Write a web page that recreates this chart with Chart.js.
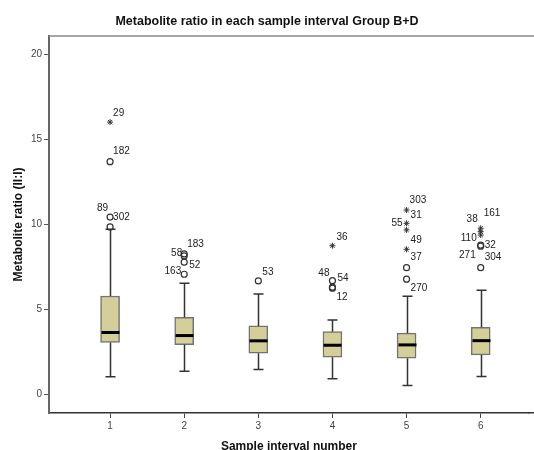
<!DOCTYPE html>
<html>
<head>
<meta charset="utf-8">
<script src="https://cdn.jsdelivr.net/npm/chart.js@4/dist/chart.umd.min.js"></script>
<style>
  html, body { margin: 0; padding: 0; background: #fff; }
  #wrap { width: 534px; height: 450px; }
</style>
</head>
<body>
<div id="wrap"><canvas id="myChart" width="534" height="450"></canvas></div>
<script>
'use strict';

// box summary per sample interval
const groups = [1, 2, 3, 4, 5, 6];
const q1 = [3.05, 2.93, 2.42, 2.19, 2.13, 2.32];
const median = [3.64, 3.46, 3.15, 2.89, 2.91, 3.16];
const q3 = [5.79, 4.54, 4.03, 3.69, 3.60, 3.95];
const whiskerLow = [1.03, 1.36, 1.46, 0.91, 0.52, 1.05];
const whiskerHigh = [9.72, 6.54, 5.91, 4.38, 5.78, 6.13];

// outliers (case number, group, value, extreme = star)
const outlierCase = ['29', '182', '302', '89', '183', '58', '52', '163', '53', '36', '54', '48', '12',
    '303', '31', '55', '49', '37', '270', '161', '38', '110', '32', '271', '304'];
const outlierGroup = [1, 1, 1, 1, 2, 2, 2, 2, 3, 4, 4, 4, 4, 5, 5, 5, 5, 5, 5, 6, 6, 6, 6, 6, 6];
const outlierValue = [16.03, 13.70, 10.44, 9.86, 8.27, 8.15, 7.78, 7.07, 6.68, 8.75, 6.69, 6.31, 6.25,
    10.85, 10.07, 9.68, 8.54, 7.46, 6.78, 9.78, 9.58, 9.38, 8.78, 8.72, 7.46];
const outlierExtreme = [true, false, false, false, false, false, false, false, false, true, false, false, false,
    true, true, true, true, false, false, true, true, true, false, false, false];

const yTicks = [0, 5, 10, 15, 20];

// where each case label sits next to its marker: [dx, dy, align]
const labelPlace = [
    [3, -9, 'left'], [3, -10, 'left'], [3, 0, 'left'], [-2, -19, 'right'],
    [3, -10, 'left'], [-2, -3, 'right'], [5, 3, 'left'], [-3, -3, 'right'],
    [4, -9, 'left'],
    [4, -8, 'left'], [5, -2, 'left'], [-3, -14, 'right'], [4, 9, 'left'],
    [3, -10, 'left'], [4, -8, 'left'], [-4, -7, 'right'], [4, -9, 'left'], [4, -10, 'left'], [4, 9, 'left'],
    [3, -15, 'left'], [-3, -12, 'right'], [-4, 3, 'right'], [4, 0, 'left'], [-5, 9, 'right'], [4, -10, 'left']
];

const FONT = "'Liberation Sans', Arial, sans-serif";

const mild = [];
const extreme = [];
outlierValue.forEach((v, i) => {
    const p = { x: outlierGroup[i], y: v };
    (outlierExtreme[i] ? extreme : mild).push(p);
});

const boxPlugin = {
    id: 'boxParts',
    afterDatasetsDraw(chart) {
        const { ctx, scales: { x, y } } = chart;
        ctx.save();
        groups.forEach((g, i) => {
            const cx = Math.round(x.getPixelForValue(g)) + 0.5;
            const yq1 = y.getPixelForValue(q1[i]);
            const yq3 = y.getPixelForValue(q3[i]);
            const ylo = y.getPixelForValue(whiskerLow[i]);
            const yhi = y.getPixelForValue(whiskerHigh[i]);
            ctx.strokeStyle = '#333';
            ctx.lineWidth = 1.5;
            ctx.beginPath();
            ctx.moveTo(cx, yq3); ctx.lineTo(cx, yhi);
            ctx.moveTo(cx, yq1); ctx.lineTo(cx, ylo);
            ctx.moveTo(cx - 5, yhi); ctx.lineTo(cx + 5, yhi);
            ctx.moveTo(cx - 5, ylo); ctx.lineTo(cx + 5, ylo);
            ctx.stroke();
            // median
            const ym = y.getPixelForValue(median[i]);
            ctx.strokeStyle = '#000';
            ctx.lineWidth = 3;
            ctx.beginPath();
            ctx.moveTo(cx - 9, ym); ctx.lineTo(cx + 9, ym);
            ctx.stroke();
        });
        // case labels
        ctx.fillStyle = '#222';
        ctx.font = '10px ' + FONT;
        ctx.textBaseline = 'middle';
        outlierValue.forEach((v, i) => {
            const px = x.getPixelForValue(outlierGroup[i]);
            const py = y.getPixelForValue(v);
            const [dx, dy, al] = labelPlace[i];
            ctx.textAlign = al;
            ctx.fillText(outlierCase[i], px + dx, py + dy);
        });
        ctx.restore();
    },
    afterDraw(chart) {
        const { ctx, chartArea } = chart;
        ctx.save();
        // frame top runs off the right edge, as does the bottom axis
        ctx.strokeStyle = '#888';
        ctx.lineWidth = 1.5;
        ctx.beginPath();
        ctx.moveTo(chartArea.left, chartArea.top);
        ctx.lineTo(chart.width, chartArea.top);
        ctx.stroke();
        const yb = Math.round(chartArea.bottom - 0.75) + 0.75;
        ctx.strokeStyle = '#333';
        ctx.beginPath();
        ctx.moveTo(chartArea.right - 1, yb);
        ctx.lineTo(chart.width, yb);
        ctx.stroke();
        ctx.restore();
    }
};

const ctx = document.getElementById('myChart').getContext('2d');

new Chart(ctx, {
    type: 'bar',
    data: {
        datasets: [
            {
                type: 'bar',
                data: groups.map((g, i) => ({ x: g, y: [q1[i], q3[i]] })),
                backgroundColor: '#d4cf98',
                borderColor: '#737373',
                borderWidth: 1.5,
                borderSkipped: false,
                barThickness: 19,
                order: 2
            },
            {
                type: 'scatter',
                data: mild,
                pointStyle: 'circle',
                pointRadius: 3,
                pointBorderWidth: 1.2,
                pointBorderColor: '#333',
                pointBackgroundColor: 'rgba(255,255,255,0)',
                order: 1
            },
            {
                type: 'scatter',
                data: extreme,
                pointStyle: 'star',
                pointRadius: 3,
                pointBorderWidth: 1,
                pointBorderColor: '#333',
                order: 1
            }
        ]
    },
    options: {
        responsive: false,
        animation: false,
        layout: { padding: 0 },
        plugins: {
            legend: { display: false },
            tooltip: { enabled: false },
            title: {
                display: true,
                text: 'Metabolite ratio in each sample interval Group B+D',
                color: '#111',
                font: { family: FONT, size: 12.5, weight: 'bold' },
                padding: { top: 14, bottom: 7 }
            }
        },
        scales: {
            x: {
                type: 'linear',
                offset: false,
                min: 0.176,
                max: 6.649,
                afterBuildTicks: s => { s.ticks = groups.map(v => ({ value: v })); },
                afterFit: s => { s.height = 37; },
                ticks: {
                    color: '#444',
                    font: { family: FONT, size: 10 },
                    padding: 2,
                    maxRotation: 0
                },
                grid: { offset: false, drawOnChartArea: false, drawTicks: true, tickLength: 5, color: '#444' },
                border: { display: true, color: '#333', width: 1.5 },
                title: {
                    display: true,
                    text: 'Sample interval number',
                    color: '#111',
                    font: { family: FONT, size: 12, weight: 'bold' },
                    padding: { top: 0, bottom: -4 }
                }
            },
            y: {
                min: -1.1,
                max: 21.1,
                afterBuildTicks: s => { s.ticks = yTicks.map(v => ({ value: v })); },
                afterFit: s => { s.width = 49; },
                ticks: {
                    color: '#444',
                    font: { family: FONT, size: 10 },
                    padding: 2
                },
                grid: { drawOnChartArea: false, drawTicks: true, tickLength: 5, color: '#555' },
                border: { display: true, color: '#666', width: 2 },
                title: {
                    display: true,
                    text: 'Metabolite ratio (II:I)',
                    color: '#111',
                    font: { family: FONT, size: 12, weight: 'bold' },
                    padding: { top: 11, bottom: 0 }
                }
            }
        }
    },
    plugins: [boxPlugin]
});
</script>
</body>
</html>
